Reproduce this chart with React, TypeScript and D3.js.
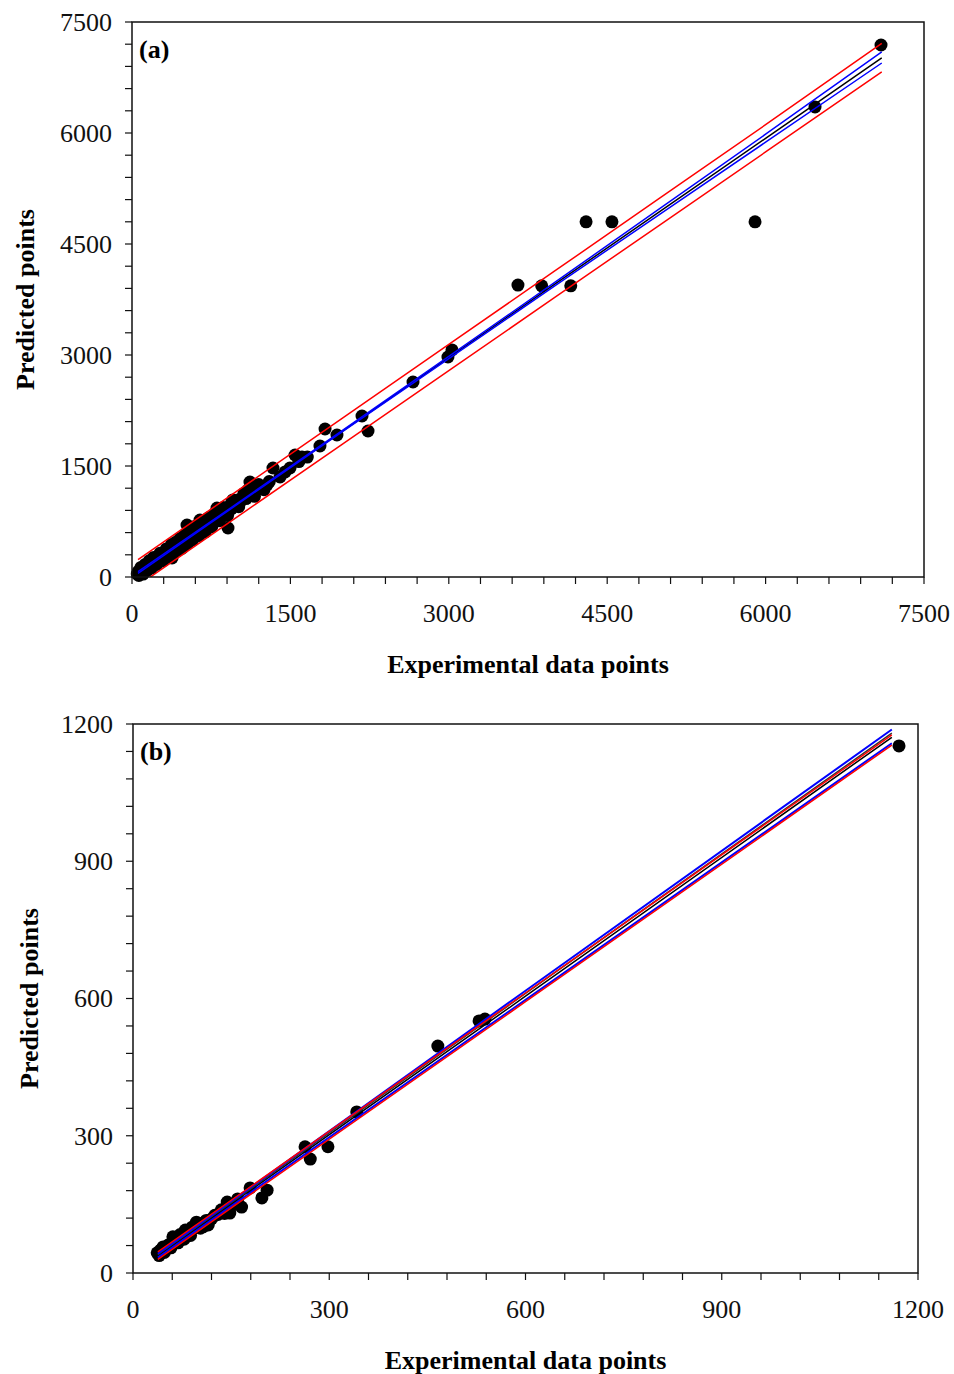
import React from "react";
import * as d3 from "d3";

// panel (a) measured points
const expA = [50, 60, 70, 80, 90, 100, 110, 120, 130, 140, 150, 160, 170, 180, 190, 200, 210, 220, 230, 240,
  250, 260, 270, 280, 290, 300, 310, 320, 330, 350, 360, 379, 380, 400, 420, 440, 460, 480, 500, 510,
  521, 540, 560, 580, 600, 620, 644, 650, 670, 690, 700, 720, 740, 760, 780, 805, 810, 830, 850, 870,
  890, 909, 920, 940, 956, 980, 1000, 1020, 1050, 1080, 1098, 1117, 1140, 1180, 1220, 1278, 1335, 1402, 1450, 1496,
  1544, 1580, 1610, 1660, 1780, 1828, 1941, 2178, 2235, 2661, 2992, 3030, 3655, 3880, 4155, 4300, 4545, 5900, 6468, 7093,
  65, 85, 105, 125, 145, 165, 185, 205, 235, 265, 295, 325, 345, 375, 395, 415, 435, 455, 475, 495,
  525, 555, 575, 605, 635, 665, 695, 725, 755, 785, 825, 865, 905, 945, 1010, 1060, 1160, 1200, 1250, 1300];
const predA = [40, 75, 55, 95, 70, 120, 90, 140, 105, 160, 130, 185, 150, 200, 175, 225, 190, 245, 210, 260,
  230, 290, 250, 310, 270, 330, 290, 350, 300, 380, 330, 257, 410, 370, 440, 410, 480, 440, 520, 470,
  703, 560, 510, 600, 560, 640, 770, 600, 690, 650, 730, 680, 770, 720, 800, 932, 760, 850, 820, 890,
  860, 662, 950, 920, 1041, 990, 1040, 1000, 1080, 1060, 1176, 1284, 1150, 1200, 1210, 1243, 1473, 1351, 1420, 1473,
  1649, 1560, 1622, 1620, 1770, 2000, 1919, 2176, 1973, 2635, 2973, 3068, 3945, 3935, 3935, 4800, 4800, 4800, 6351, 7189,
  20, 130, 40, 170, 90, 220, 120, 265, 170, 320, 220, 380, 280, 440, 330, 470, 360, 520, 390, 560,
  450, 610, 500, 690, 560, 730, 610, 800, 680, 860, 760, 940, 830, 1010, 950, 1130, 1090, 1250, 1180, 1290];

// panel (a) fitted line and bands
const lineXA = [57, 1000, 2000, 3000, 4000, 5000, 6000, 7100];
const fitA = [60, 991, 1979, 2966, 3953, 4941, 5928, 7014];
const confUpA = [72, 998, 1987, 2980, 3978, 4980, 5984, 7095];
const confLoA = [48, 984, 1971, 2952, 3930, 4904, 5876, 6946];
const predUpA = [235, 1166, 2155, 3143, 4132, 5122, 6112, 7212];
const predLoA = [-115, 816, 1803, 2789, 3774, 4760, 5744, 6826];

// panel (b) measured points
const expB = [37, 42, 46, 50, 55, 61, 66, 72, 80, 85, 90, 97, 103, 107, 112, 120, 130, 144, 148, 166,
  179, 197, 205, 263, 271, 298, 342, 466, 529, 538, 1171,
  40, 44, 48, 53, 58, 63, 69, 75, 78, 83, 88, 93, 100, 110, 115, 125, 135, 140, 155, 160];
const predB = [44, 50, 57, 52, 62, 79, 70, 84, 94, 88, 100, 111, 98, 101, 115, 118, 128, 155, 131, 144,
  186, 164, 181, 276, 249, 276, 352, 496, 551, 555, 1152,
  38, 52, 45, 60, 55, 70, 66, 80, 74, 90, 82, 98, 106, 112, 105, 126, 138, 130, 150, 162];

// panel (b) fitted line and bands
const lineXB = [38, 600, 1160];
const fitB = [38, 605, 1171];
const lineB2 = [40, 611, 1180];
const confUpB = [42, 617, 1188];
const confLoB = [34, 597, 1158];
const predUpB = [46, 612, 1176];
const predLoB = [30, 593, 1154];

const ticksA = [0, 1500, 3000, 4500, 6000, 7500];
const ticksB = [0, 300, 600, 900, 1200];

const FONT = "'Liberation Serif', 'Times New Roman', serif";

function Panel({ box, max, ticks, minor, xs, ys, lineX, lines, tag, titleX, clipId }) {
  const x = d3.scaleLinear().domain([0, max]).range([box.left, box.right]);
  const y = d3.scaleLinear().domain([0, max]).range([box.bottom, box.top]);
  const minorTicks = d3.range(0, max + 0.1, minor);
  const line = (vals) =>
    d3.line<number>().x((_, i) => x(lineX[i])).y((v) => y(v))(vals) || "";

  return (
    <g>
      <defs>
        <clipPath id={clipId}>
          <rect x={box.left} y={box.top} width={box.right - box.left} height={box.bottom - box.top} />
        </clipPath>
      </defs>
      <g>
        {xs.map((d, i) => (
          <circle key={i} cx={x(d)} cy={y(ys[i])} r={6.5} fill="#000" />
        ))}
      </g>
      <g clipPath={`url(#${clipId})`} fill="none">
        {lines.map((l, i) => (
          <path key={i} d={line(l.vals)} stroke={l.color} strokeWidth={l.w || 1.5} />
        ))}
      </g>
      <rect x={box.left} y={box.top} width={box.right - box.left} height={box.bottom - box.top}
        fill="none" stroke="#111" strokeWidth={1.5} />
      {minorTicks.map((t) => (
        <g key={t} stroke="#111" strokeWidth={1.2}>
          <line x1={x(t)} x2={x(t)} y1={box.bottom} y2={box.bottom + 7} />
          <line x1={box.left} x2={box.left - 7} y1={y(t)} y2={y(t)} />
        </g>
      ))}
      {ticks.map((t) => (
        <g key={t} fontFamily={FONT} fontSize={26} fill="#111">
          <text x={x(t)} y={box.bottom + 45} textAnchor="middle">{t}</text>
          <text x={box.left - 20} y={y(t)} dy="0.34em" textAnchor="end">{t}</text>
        </g>
      ))}
      <text x={box.left + 7} y={box.top + 36} fontFamily={FONT} fontSize={26} fontWeight="bold">{tag}</text>
      <text x={(box.left + box.right) / 2} y={box.bottom + 96} textAnchor="middle"
        fontFamily={FONT} fontSize={26} fontWeight="bold">Experimental data points</text>
      <text transform={`translate(${titleX},${(box.top + box.bottom) / 2}) rotate(-90)`} textAnchor="middle"
        fontFamily={FONT} fontSize={26} fontWeight="bold">Predicted points</text>
    </g>
  );
}

export default function App() {
  const boxA = { left: 132, right: 924, top: 22, bottom: 577 };
  const boxB = { left: 133, right: 918, top: 724, bottom: 1273 };
  const linesA = [
    { vals: fitA, color: "#000000" },
    { vals: confUpA, color: "#0000ff" },
    { vals: confLoA, color: "#0000ff" },
    { vals: predUpA, color: "#ff0000" },
    { vals: predLoA, color: "#ff0000" },
  ];
  const linesB = [
    { vals: fitB, color: "#000000" },
    { vals: lineB2, color: "#333333" },
    { vals: confUpB, color: "#0000ff", w: 2 },
    { vals: confLoB, color: "#0000ff", w: 2 },
    { vals: predUpB, color: "#ff0000" },
    { vals: predLoB, color: "#ff0000" },
  ];
  return (
    <svg width={954} height={1374} style={{ position: "absolute", left: 0, top: 0, background: "#fff" }}>
      <Panel box={boxA} max={7500} ticks={ticksA} minor={300} xs={expA} ys={predA}
        lineX={lineXA} lines={linesA} tag="(a)" titleX={34} clipId="clipA" />
      <Panel box={boxB} max={1200} ticks={ticksB} minor={60} xs={expB} ys={predB}
        lineX={lineXB} lines={linesB} tag="(b)" titleX={38} clipId="clipB" />
    </svg>
  );
}
